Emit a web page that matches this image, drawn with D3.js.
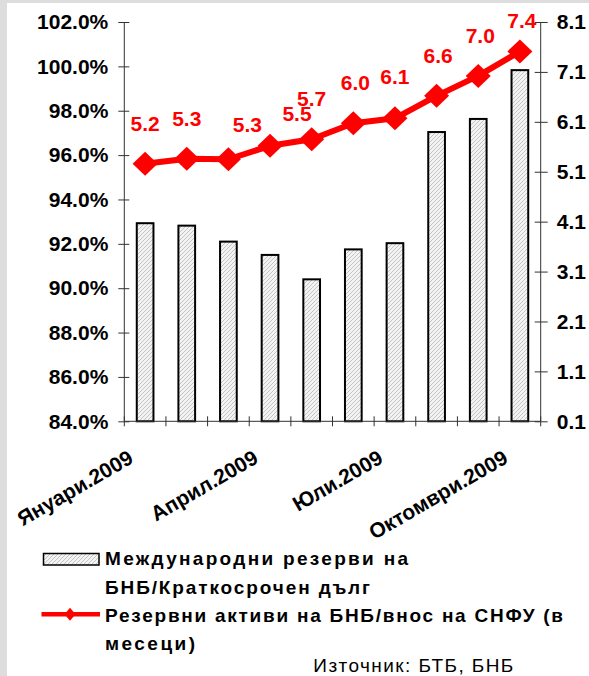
<!DOCTYPE html>
<html>
<head>
<meta charset="utf-8">
<script src="https://cdn.jsdelivr.net/npm/d3@7"></script>
<style>
  html, body { margin: 0; padding: 0; background: #dddddd; }
  svg { display: block; }
</style>
</head>
<body>
<script>
// ---------- data ----------
const categories = ["Януари.2009","Февруари.2009","Март.2009","Април.2009","Май.2009",
                    "Юни.2009","Юли.2009","Август.2009","Септември.2009","Октомври.2009"];
const xTickLabels = ["Януари.2009","Април.2009","Юли.2009","Октомври.2009"];
const reserveRatio = [92.93, 92.82, 92.10, 91.50, 90.40, 91.75, 92.03, 97.04, 97.63, 99.83];
const importMonths = [5.26, 5.36, 5.35, 5.62, 5.75, 6.07, 6.17, 6.62, 7.02, 7.51];
const importLabels = ["5.2","5.3","5.3","5.5","5.7","6.0","6.1","6.6","7.0","7.4"];
const leftTicks = [84, 86, 88, 90, 92, 94, 96, 98, 100, 102];
const rightTicks = [0.1, 1.1, 2.1, 3.1, 4.1, 5.1, 6.1, 7.1, 8.1];
const legendBar = ["Международни резерви на", "БНБ/Краткосрочен дълг"];
const legendLine = ["Резервни активи на БНБ/внос на СНФУ (в", "месеци)"];
const sourceText = "Източник: БТБ, БНБ";
// manual label nudges (layout only)
const labelNudge = [[0,0],[0,0],[19,6],[27,8],[0,0],[2,0],[0,-1],[1.5,0],[2,0],[2,9.5]];

// ---------- layout ----------
const W = 589, H = 676;
const plot = { left: 124.3, right: 540.7, top: 22, bottom: 421.3 };
const FONT = "'Liberation Sans', Arial, sans-serif";
const RED = "#ff0000";

const svg = d3.select("body").append("svg").attr("width", W).attr("height", H);

// background panels
svg.append("rect").attr("x", 0).attr("y", 0).attr("width", W).attr("height", H).attr("fill", "#dddddd");
svg.append("rect").attr("x", 7).attr("y", 3).attr("width", W - 7).attr("height", H - 3).attr("fill", "#ffffff");

// hatch pattern
const defs = svg.append("defs");
const pat = defs.append("pattern").attr("id", "hatch").attr("patternUnits", "userSpaceOnUse")
  .attr("width", 4).attr("height", 4);
pat.append("rect").attr("width", 4).attr("height", 4).attr("fill", "#f3f3f3");
pat.append("path").attr("d", "M-1,1 L1,-1 M0,4 L4,0 M3,5 L5,3")
  .attr("stroke", "#b0b0b0").attr("stroke-width", 0.7);

// scales
const x = d3.scaleBand().domain(categories).range([plot.left, plot.right])
  .paddingInner(0.551).paddingOuter(0.2755);
const yL = d3.scaleLinear().domain([84, 102]).range([plot.bottom, plot.top]);
const yR = d3.scaleLinear().domain([0.1, 8.1]).range([plot.bottom, plot.top]);

// bars
svg.append("g").selectAll("rect").data(reserveRatio).join("rect")
  .attr("x", (d, i) => x(categories[i]) + 1)
  .attr("y", d => yL(d))
  .attr("width", x.bandwidth() - 2)
  .attr("height", d => yL(84) - yL(d))
  .attr("fill", "url(#hatch)")
  .attr("stroke", "#000").attr("stroke-width", 2);

// left axis
const axL = svg.append("g").attr("transform", `translate(${plot.left},0)`)
  .call(d3.axisLeft(yL).tickValues(leftTicks).tickFormat(d => d.toFixed(1) + "%").tickSize(6).tickPadding(10));
axL.select(".domain").attr("stroke", "#333").attr("d", `M0,${plot.bottom}V${plot.top}`);
axL.selectAll(".tick line").attr("x1", 5).attr("x2", -6).attr("stroke", "#333");
axL.selectAll(".tick text").attr("font-family", FONT).attr("font-size", 21).attr("font-weight", "bold").attr("fill", "#000");

// right axis
const axR = svg.append("g").attr("transform", `translate(${plot.right},0)`)
  .call(d3.axisRight(yR).tickValues(rightTicks).tickFormat(d3.format(".1f")).tickSize(7).tickPadding(9));
axR.select(".domain").attr("stroke", "#333").attr("d", `M0,${plot.bottom}V${plot.top}`);
axR.selectAll(".tick line").attr("x1", -6).attr("x2", 7).attr("stroke", "#333");
axR.selectAll(".tick text").attr("font-family", FONT).attr("font-size", 21).attr("font-weight", "bold").attr("fill", "#000");

// bottom axis (category boundaries)
const axB = svg.append("g").attr("transform", `translate(0,${plot.bottom})`)
  .call(d3.axisBottom(x).tickSize(0).tickFormat(""));
axB.select(".domain").attr("stroke", "#333").attr("d", `M${plot.left},0H${plot.right}`);
axB.selectAll(".tick").remove();
const bounds = d3.range(categories.length + 1).map(i => plot.left + i * x.step());
axB.selectAll("line.b").data(bounds).join("line").attr("class", "b")
  .attr("x1", d => d).attr("x2", d => d).attr("y1", -5).attr("y2", 5).attr("stroke", "#333");

// rotated category labels
svg.append("g").selectAll("text").data(xTickLabels).join("text")
  .attr("transform", d => `translate(${x(d) + x.bandwidth() / 2 - 10.5},462) rotate(-30)`)
  .attr("text-anchor", "end")
  .attr("font-family", FONT).attr("font-size", 21).attr("font-weight", "bold").attr("fill", "#000")
  .text(d => d);

// line series
const pts = importMonths.map((v, i) => [x(categories[i]) + x.bandwidth() / 2, yR(v)]);
svg.append("path").datum(pts)
  .attr("d", d3.line())
  .attr("fill", "none").attr("stroke", RED).attr("stroke-width", 6).attr("stroke-linejoin", "round");
const diamond = "M0,-12L12.5,0L0,12L-12.5,0Z";
svg.append("g").selectAll("path").data(pts).join("path")
  .attr("transform", d => `translate(${d[0]},${d[1]})`)
  .attr("d", diamond).attr("fill", RED);

// data labels
svg.append("g").selectAll("text").data(importLabels).join("text")
  .attr("x", (d, i) => pts[i][0] + labelNudge[i][0])
  .attr("y", (d, i) => pts[i][1] - 33 + labelNudge[i][1])
  .attr("text-anchor", "middle")
  .attr("font-family", FONT).attr("font-size", 21).attr("font-weight", "bold").attr("fill", RED)
  .text(d => d);

// legend
const lg = svg.append("g");
lg.append("rect").attr("x", 43.5).attr("y", 553.5).attr("width", 55.5).attr("height", 11.5)
  .attr("fill", "url(#hatch)").attr("stroke", "#000").attr("stroke-width", 1.5);
lg.append("line").attr("x1", 41.5).attr("x2", 100).attr("y1", 614.3).attr("y2", 614.3)
  .attr("stroke", RED).attr("stroke-width", 4.5);
lg.append("path").attr("transform", "translate(70,614.3)").attr("d", "M0,-6.5L5.5,0L0,6.5L-5.5,0Z").attr("fill", RED);

const legendRows = [
  { t: legendBar[0], y: 565, w: 303 },
  { t: legendBar[1], y: 593.5, w: 265 },
  { t: legendLine[0], y: 622, w: 458 },
  { t: legendLine[1], y: 650, w: 90 }
];
lg.selectAll("text.row").data(legendRows).join("text").attr("class", "row")
  .attr("x", 105).attr("y", d => d.y)
  .attr("font-family", FONT).attr("font-size", 19).attr("font-weight", "bold").attr("fill", "#000")
  .attr("textLength", d => d.w).attr("lengthAdjust", "spacing")
  .text(d => d.t);

svg.append("text").attr("x", 313.3).attr("y", 671.5)
  .attr("font-family", FONT).attr("font-size", 19).attr("fill", "#000")
  .attr("textLength", 200).attr("lengthAdjust", "spacing")
  .text(sourceText);
</script>
</body>
</html>
